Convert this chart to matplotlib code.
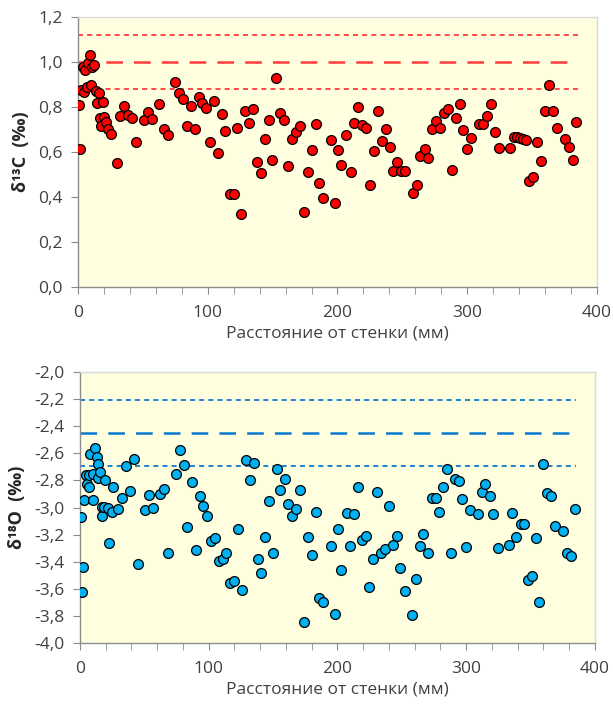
import matplotlib
matplotlib.use("Agg")
import matplotlib.pyplot as plt
from matplotlib.ticker import MultipleLocator, FuncFormatter

plt.rcParams['font.family'] = ['Open Sans', 'DejaVu Sans']
plt.rcParams['lines.scale_dashes'] = False

# d13C data (distance from wall, mm)
c_dist = [1.1, 1.8, 2.3, 3.6, 4.9, 5.4, 6.9, 7.4, 8.9, 10.0, 10.5, 12.6, 13.6, 14.6,
          16.2, 16.6, 17.7, 19.0, 19.7, 21.3, 22.8, 25.7, 30.0, 32.6, 35.7, 38.5,
          41.9, 44.9, 50.6, 53.6, 57.0, 62.7, 66.0, 69.1, 74.8, 77.6, 80.9, 83.7,
          87.1, 89.9, 93.0, 95.8, 98.7, 102.0, 104.8, 107.9, 111.0, 113.5, 116.8,
          119.9, 122.8, 125.9, 128.7, 131.8, 134.9, 138.0, 141.0, 144.1, 146.9,
          149.7, 152.8, 155.9, 159.0, 161.8, 164.6, 167.7, 170.8, 173.9, 177.0,
          180.0, 183.1, 186.0, 189.0, 195.0, 197.8, 200.4, 203.0, 206.8, 210.1,
          212.7, 216.0, 218.9, 222.0, 224.7, 227.8, 230.9, 234.0, 237.1, 240.2,
          243.0, 246.1, 248.9, 252.0, 257.9, 261.0, 263.8, 267.1, 270.0, 272.8,
          275.9, 279.0, 281.8, 284.9, 287.9, 291.0, 294.1, 297.0, 299.8, 303.1,
          309.0, 312.1, 314.9, 318.0, 321.1, 324.2, 333.2, 335.7, 338.3, 340.9,
          343.0, 345.3, 347.8, 350.9, 354.0, 356.8, 359.9, 363.0, 366.1, 369.2,
          375.0, 378.1, 381.2, 384.0]
c_val = [0.811, 0.615, 0.877, 0.978, 0.867, 0.966, 0.889, 0.996, 1.033, 0.899,
         0.978, 0.985, 0.870, 0.818, 0.862, 0.751, 0.714, 0.820, 0.756, 0.733,
         0.701, 0.680, 0.550, 0.759, 0.803, 0.763, 0.750, 0.644, 0.740, 0.776,
         0.747, 0.815, 0.704, 0.674, 0.910, 0.860, 0.837, 0.714, 0.806, 0.704,
         0.843, 0.818, 0.794, 0.646, 0.825, 0.594, 0.769, 0.692, 0.412, 0.412,
         0.708, 0.326, 0.782, 0.729, 0.793, 0.557, 0.508, 0.656, 0.740, 0.566,
         0.931, 0.773, 0.741, 0.538, 0.656, 0.688, 0.717, 0.335, 0.510, 0.611,
         0.723, 0.464, 0.397, 0.655, 0.375, 0.608, 0.540, 0.676, 0.510, 0.731,
         0.802, 0.720, 0.708, 0.455, 0.605, 0.782, 0.649, 0.700, 0.624, 0.517,
         0.554, 0.517, 0.517, 0.418, 0.452, 0.580, 0.613, 0.575, 0.701, 0.738,
         0.705, 0.773, 0.790, 0.522, 0.753, 0.815, 0.698, 0.612, 0.664, 0.726,
         0.726, 0.760, 0.812, 0.689, 0.616, 0.619, 0.667, 0.667, 0.664, 0.658,
         0.653, 0.471, 0.488, 0.643, 0.559, 0.784, 0.898, 0.784, 0.708, 0.656,
         0.621, 0.563, 0.732]

# d18O data
o_dist = [0.8, 2.6, 1.8, 3.4, 4.4, 5.7, 7.0, 7.2, 8.0, 9.8, 10.3, 11.4, 12.9, 14.0,
          14.2, 15.8, 16.8, 17.3, 18.9, 19.7, 21.7, 22.8, 24.6, 25.6, 29.8, 32.6,
          35.5, 38.8, 41.7, 44.8, 50.5, 53.6, 56.7, 62.1, 65.5, 68.6, 74.8, 77.9,
          80.7, 83.3, 87.0, 89.8, 92.9, 95.7, 98.6, 101.7, 104.6, 107.7, 110.8,
          113.6, 116.7, 119.8, 122.7, 125.8, 128.9, 132.0, 134.9, 137.9, 140.8,
          143.9, 146.7, 149.8, 152.7, 155.5, 158.9, 161.7, 164.8, 167.9, 170.6,
          173.9, 176.8, 179.9, 183.0, 185.6, 188.7, 195.1, 198.0, 200.1, 203.0,
          207.1, 209.9, 213.0, 215.8, 218.7, 221.8, 224.6, 227.7, 230.8, 233.7,
          236.8, 239.9, 242.8, 245.9, 248.7, 252.1, 257.8, 260.9, 264.0, 266.8,
          270.0, 273.1, 276.2, 279.0, 282.1, 284.9, 288.0, 291.1, 294.0, 296.8,
          299.9, 303.0, 309.0, 311.9, 314.7, 318.1, 320.9, 324.3, 333.1, 335.6,
          339.0, 342.2, 344.9, 347.8, 350.9, 354.0, 356.9, 360.0, 362.8, 365.9,
          369.0, 375.0, 377.9, 381.2, 384.1]
o_val = [-3.072, -3.439, -3.624, -2.947, -2.757, -2.824, -2.849, -2.762, -2.602,
         -2.947, -2.750, -2.561, -2.627, -2.676, -2.779, -2.740, -3.063, -2.996,
         -2.996, -2.794, -3.006, -3.264, -3.035, -2.851, -3.011, -2.927, -2.694,
         -2.880, -2.644, -3.417, -3.018, -2.908, -3.001, -2.898, -2.866, -3.336,
         -2.750, -2.573, -2.683, -3.141, -2.814, -3.316, -2.912, -2.989, -3.065,
         -3.249, -3.222, -3.395, -3.377, -3.333, -3.557, -3.542, -3.161, -3.611,
         -2.647, -2.799, -2.674, -3.380, -3.481, -3.220, -2.954, -3.333, -2.718,
         -2.873, -2.790, -2.976, -3.065, -3.013, -2.868, -3.845, -3.215, -3.353,
         -3.035, -3.665, -3.700, -3.281, -3.783, -3.161, -3.459, -3.038, -3.284,
         -3.050, -2.849, -3.242, -3.210, -3.587, -3.377, -2.886, -3.333, -3.308,
         -2.986, -3.279, -3.213, -3.444, -3.616, -3.790, -3.528, -3.284, -3.198,
         -3.336, -2.927, -2.932, -3.033, -2.849, -2.716, -3.333, -2.790, -2.802,
         -2.940, -3.294, -3.018, -3.048, -2.886, -2.827, -2.915, -3.045, -3.301,
         -3.277, -3.043, -3.215, -3.124, -3.119, -3.535, -3.505, -3.227, -3.697,
         -2.681, -2.895, -2.912, -3.139, -3.176, -3.336, -3.360, -3.008]

# reference levels: mean and mean +/- range
ref_x = [0, 385]
c_mean, c_band = 1.0, 0.12
o_mean, o_band = -2.45, 0.24

xlabel = "Расстояние от стенки (мм)"
text_col = "#404040"


def comma_fmt(v, pos):
    return f"{v:.1f}".replace(".", ",")


def style_axes(ax, ylim, ylabel):
    ax.set_facecolor("#FFFFE0")
    ax.set_xlim(0, 400)
    ax.set_ylim(*ylim)
    ax.xaxis.set_major_locator(MultipleLocator(100))
    ax.xaxis.set_minor_locator(MultipleLocator(20))
    ax.yaxis.set_major_locator(MultipleLocator(0.2))
    ax.yaxis.set_major_formatter(FuncFormatter(comma_fmt))
    for side in ["top", "right"]:
        ax.spines[side].set_color("#D9D9D9")
        ax.spines[side].set_linewidth(1.0)
    for side in ["left", "bottom"]:
        ax.spines[side].set_color("#8C8C8C")
        ax.spines[side].set_linewidth(1.0)
    ax.tick_params(which="both", direction="out", length=5, color="#8C8C8C",
                   labelsize=12.5, labelcolor=text_col)
    ax.tick_params(axis="x", which="major", pad=8)
    ax.tick_params(axis="y", which="major", pad=6)
    ax.set_xlabel(xlabel, fontsize=12.5, color=text_col, labelpad=3)
    ax.set_ylabel(ylabel, fontsize=13, fontweight="bold", color="#262626",
                  labelpad=6)


fig = plt.figure(figsize=(6.13, 7.04), dpi=100)
ax1 = fig.add_axes([0.1272, 0.5923, 0.8467, 0.3836])
ax2 = fig.add_axes([0.1305, 0.0866, 0.8401, 0.3850])

# top: d13C
ax1.plot(ref_x, [c_mean] * 2, color="#FF3B3B", lw=1.8, dashes=(12, 8))
ax1.plot(ref_x, [c_mean + c_band] * 2, color="#FF3B3B", lw=1.3, dashes=(3.6, 3))
ax1.plot(ref_x, [c_mean - c_band] * 2, color="#FF3B3B", lw=1.3, dashes=(3.6, 3))
ax1.scatter(c_dist, c_val, s=50, c="#FF0000", edgecolors="black",
            linewidths=0.9, zorder=3)
style_axes(ax1, (0, 1.2), "δ¹³C  (‰)")

# bottom: d18O
ax2.plot(ref_x, [o_mean] * 2, color="#0B78CF", lw=1.8, dashes=(12, 8))
ax2.plot(ref_x, [o_mean + o_band] * 2, color="#0B78CF", lw=1.3, dashes=(3.6, 3))
ax2.plot(ref_x, [o_mean - o_band] * 2, color="#0B78CF", lw=1.3, dashes=(3.6, 3))
ax2.scatter(o_dist, o_val, s=50, c="#00B0F0", edgecolors="black",
            linewidths=0.9, zorder=3)
style_axes(ax2, (-4.0, -2.0), "δ¹⁸O  (‰)")

fig.savefig("out.png", dpi=100)
